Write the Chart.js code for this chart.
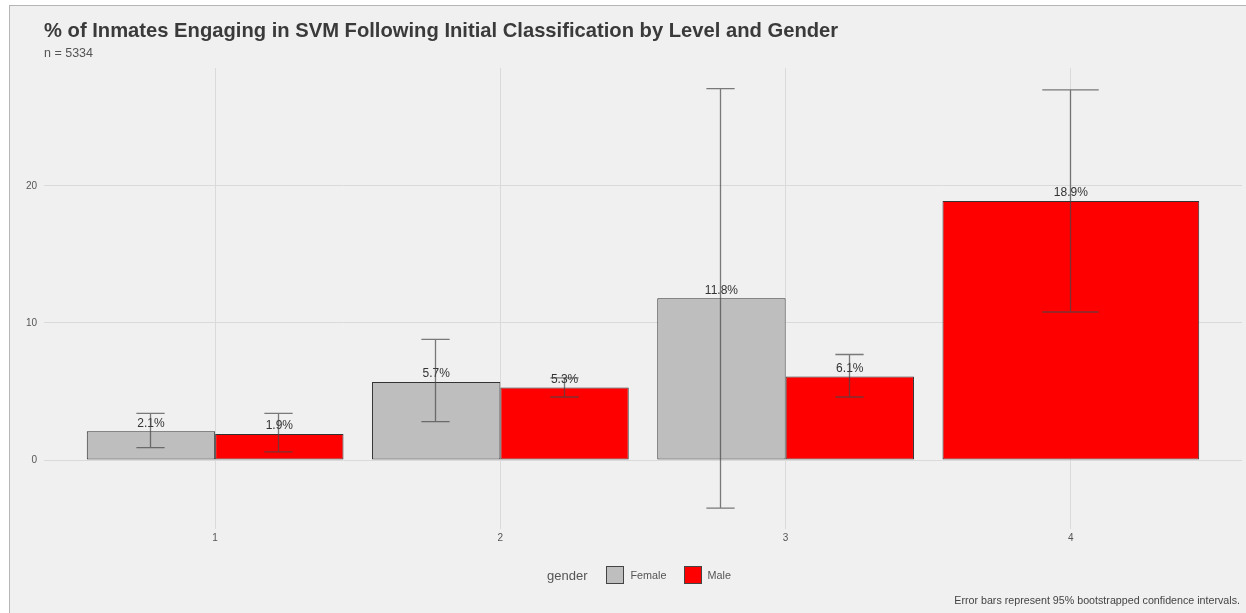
<!DOCTYPE html>
<html>
<head>
<meta charset="utf-8">
<script src="https://cdn.jsdelivr.net/npm/chart.js@4.4.1/dist/chart.umd.min.js"></script>
<style>
  html, body { margin: 0; padding: 0; background: #ffffff; }
  body { width: 1246px; height: 613px; position: relative; overflow: hidden; font-family: "Liberation Sans", Arial, sans-serif; }
  #panel { position: absolute; left: 9px; top: 5px; width: 1237px; height: 608px; background: #f0f0f0;
           border-left: 1px solid #b5b5b5; border-top: 1px solid #b5b5b5; box-sizing: border-box; }
  #chart { position: absolute; left: 10px; top: 6px; }
  .txt { position: absolute; white-space: nowrap; }
  #title { left: 44px; top: 19px; font-size: 20.2px; font-weight: bold; color: #3a3a3a; }
  #subtitle { left: 44px; top: 46px; font-size: 12.5px; color: #555; }
  #legend { left: 547px; top: 565px; height: 20px; display: flex; align-items: center; color: #555; }
  #legend .ttl { font-size: 13px; margin-right: 19px; }
  #legend .key { width: 16px; height: 16px; border: 1px solid #444; margin-right: 6px; }
  #legend .lab { font-size: 10.8px; margin-right: 17px; }
  #caption { right: 6px; top: 594px; font-size: 10.7px; color: #444; }
</style>
</head>
<body>
<div id="panel"></div>
<canvas id="chart" width="1236" height="607"></canvas>
<div id="title" class="txt">% of Inmates Engaging in SVM Following Initial Classification by Level and Gender</div>
<div id="subtitle" class="txt">n = 5334</div>
<div id="legend" class="txt">
  <span class="ttl">gender</span>
  <span class="key" style="background:#bebebe"></span><span class="lab">Female</span>
  <span class="key" style="background:#ff0000"></span><span class="lab">Male</span>
</div>
<div id="caption" class="txt">Error bars represent 95% bootstrapped confidence intervals.</div>
<script>
// Classification levels
const levels = ['1', '2', '3', '4'];
// Percentage engaging in SVM, by gender (no female inmates at level 4)
const femalePct = [2.1, 5.7, 11.8, null];
const malePct = [1.9, 5.3, 6.1, 18.9];
// 95% bootstrapped confidence bounds
const femaleLow = [0.9, 2.8, -3.5, null];
const femaleHigh = [3.4, 8.8, 27.1, null];
const maleLow = [0.6, 4.6, 4.6, 10.8];
const maleHigh = [3.4, 6.0, 7.7, 27.0];
// Y-axis tick values
const yTicks = [0, 10, 20];

const bounds = [
  { low: femaleLow, high: femaleHigh },
  { low: maleLow, high: maleHigh }
];

// Value labels and confidence interval whiskers drawn on top of the bars
const barExtras = {
  id: 'barExtras',
  afterDatasetsDraw(chart) {
    const ctx = chart.ctx;
    const yScale = chart.scales.y;
    ctx.save();
    chart.data.datasets.forEach((ds, i) => {
      const meta = chart.getDatasetMeta(i);
      meta.data.forEach((bar, j) => {
        const v = ds.data[j];
        if (v === null || v === undefined) return;
        ctx.font = '12px "Liberation Sans", Arial, sans-serif';
        ctx.fillStyle = '#333333';
        ctx.textAlign = 'center';
        ctx.textBaseline = 'middle';
        ctx.fillText(v.toFixed(1) + '%', bar.x, bar.y - 8);
      });
    });
    chart.data.datasets.forEach((ds, i) => {
      const meta = chart.getDatasetMeta(i);
      meta.data.forEach((bar, j) => {
        const lo = bounds[i].low[j];
        const hi = bounds[i].high[j];
        if (lo === null || hi === null) return;
        const yLo = yScale.getPixelForValue(lo);
        const yHi = yScale.getPixelForValue(hi);
        const half = bar.width * 0.11;
        const x = Math.round(bar.x) - 0.5;
        ctx.strokeStyle = 'rgba(70,70,70,0.7)';
        ctx.lineWidth = 1.3;
        ctx.beginPath();
        ctx.moveTo(x, yLo); ctx.lineTo(x, yHi);
        ctx.moveTo(x - half, yLo); ctx.lineTo(x + half, yLo);
        ctx.moveTo(x - half, yHi); ctx.lineTo(x + half, yHi);
        ctx.stroke();
      });
    });
    ctx.restore();
  }
};

new Chart(document.getElementById('chart'), {
  type: 'bar',
  data: {
    labels: levels,
    datasets: [
      { label: 'Female', data: femalePct, backgroundColor: '#bebebe', borderColor: '#333333', borderWidth: 1, borderSkipped: false },
      { label: 'Male', data: malePct, backgroundColor: '#ff0000', borderColor: '#333333', borderWidth: 1, borderSkipped: false }
    ]
  },
  options: {
    responsive: false,
    animation: false,
    devicePixelRatio: 1,
    skipNull: true,
    datasets: { bar: { categoryPercentage: 0.9, barPercentage: 1.0 } },
    layout: { padding: { top: 62, right: 4, left: 0, bottom: 0 } },
    plugins: { legend: { display: false }, tooltip: { enabled: false }, title: { display: false } },
    scales: {
      x: {
        offset: true,
        grid: { offset: false, color: '#dadada', lineWidth: 1, drawTicks: false },
        border: { display: false },
        ticks: { color: '#555', font: { size: 10, family: '"Liberation Sans", Arial, sans-serif' }, padding: 3 },
        afterBuildTicks(scale) {
          // widen the category range so each end has 0.6 of a step of space
          scale._startValue = -0.6;
          scale._valueRange = levels.length - 1 + 1.2;
        },
        afterFit(scale) { scale.height = 84; }
      },
      y: {
        min: -5.03,
        max: 28.6,
        grid: { color: '#dadada', lineWidth: 1, drawTicks: false },
        border: { display: false },
        ticks: { color: '#555', font: { size: 10, family: '"Liberation Sans", Arial, sans-serif' }, padding: 7 },
        afterBuildTicks(scale) { scale.ticks = yTicks.map(v => ({ value: v })); },
        afterFit(scale) { scale.width = 34; }
      }
    }
  },
  plugins: [barExtras]
});
</script>
</body>
</html>
